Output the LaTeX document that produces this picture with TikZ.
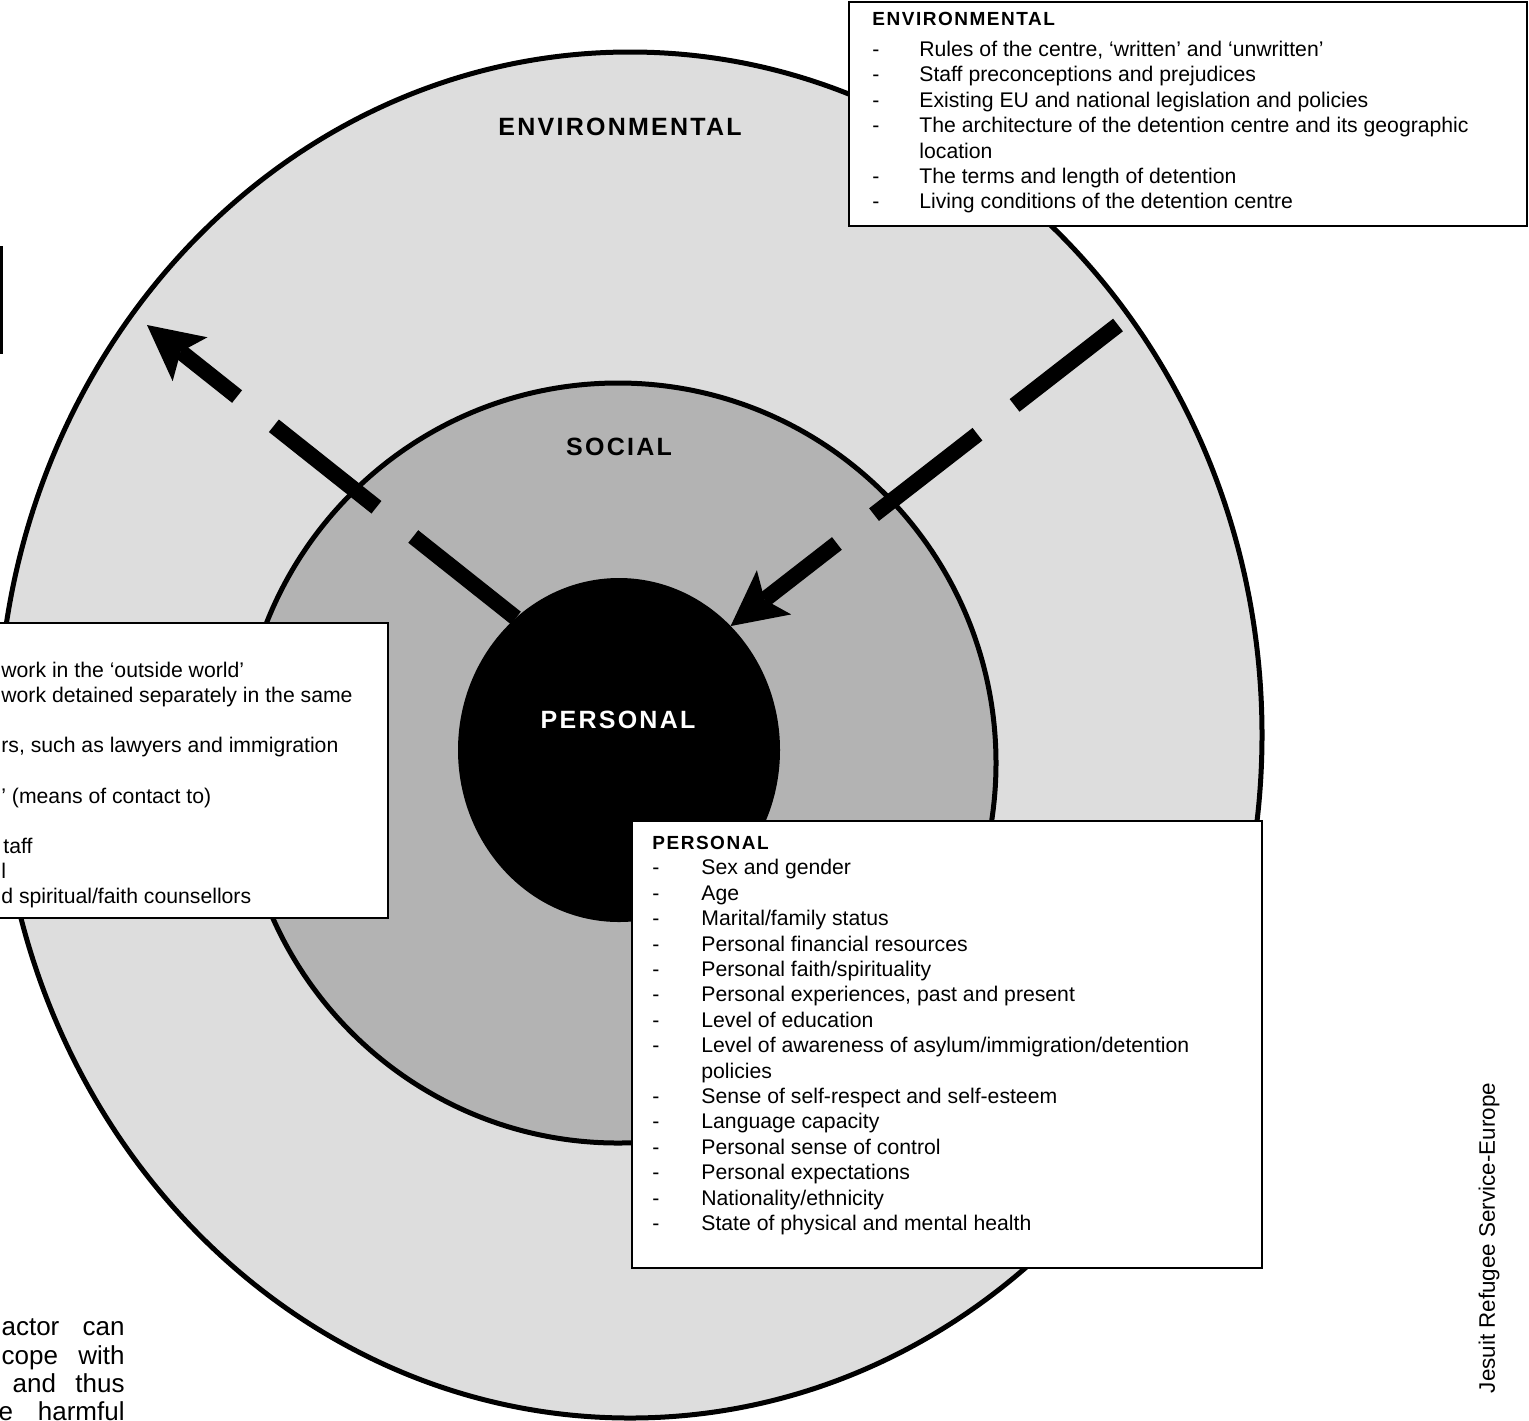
\documentclass[tikz,border=0pt]{standalone}
\usepackage{fontspec}
\setmainfont{Liberation Sans}
\newfontfamily\ringfont[LetterSpace=9]{Liberation Sans}
\newfontfamily\headfont[LetterSpace=8]{Liberation Sans}
\usetikzlibrary{arrows.meta,shapes.geometric}
\definecolor{envgray}{RGB}{221,221,221}
\definecolor{socgray}{RGB}{179,179,179}
\tikzset{
 ring/.style={ellipse, draw=black, line width=2.5pt, inner sep=0pt, outer sep=0pt},
 ringlabel/.style={font=\ringfont\bfseries\fontsize{12.5}{15}\selectfont, inner sep=0pt},
 listbox/.style={draw=black, line width=1pt, fill=white, inner sep=0pt, outer sep=0pt},
 listtext/.style={anchor=base west, inner sep=0pt, font=\fontsize{10.6}{12.7}\selectfont},
 flow/.style={line width=8pt, dash pattern=on 65.5pt off 23.5pt,
   -{Stealth[length=27.5pt,width=28pt,inset=6pt,line width=0pt]}},
 credit/.style={inner sep=0pt, font=\fontsize{11.2}{13}\selectfont},
 para/.style={anchor=base east, inner sep=0pt, font=\fontsize{13}{15}\selectfont},
}
\begin{document}
\begin{tikzpicture}[x=0.5pt,y=-0.5pt]
\useasboundingbox (0,0) rectangle (1529,1420);
\begin{scope}
\clip (0,0) rectangle (1529,1420);
% rings
\node[ring, fill=envgray, minimum width=632pt, minimum height=683pt] (env) at (630,735) {};
\node[ring, fill=socgray, minimum width=378pt, minimum height=380pt] (soc) at (618,763) {};
\node[ellipse, fill=black, inner sep=0pt, outer sep=0pt, minimum width=161pt, minimum height=172pt] (pers) at (619,750) {};
\node[ringlabel] (envlabel) at (620,127) {ENVIRONMENTAL};
\node[ringlabel] (soclabel) at (619,447) {SOCIAL};
\node[ringlabel, text=white] (perslabel) at (618,720) {PERSONAL};
% arrows
\coordinate (outtip) at (147,325);
\coordinate (instart) at (1118,325);
\draw[flow] (pers.128) -- (outtip);
\draw[flow] (instart) -- (pers.48);
% top-left fragment box
\node[draw=black, line width=1.5pt, inner sep=0pt, minimum width=30.75pt, minimum height=52.5pt] (tlbox) at (-29.25,299.5) {};
% environmental box
\node[listbox, minimum width=339pt, minimum height=112pt] (envbox) at (1188,114) {};
\node[listtext] (envtxt) at (872,25) {\begin{tabular}[t]{@{}p{23.5pt}@{}l@{}}
\multicolumn{2}{@{}l@{}}{\headfont\bfseries\fontsize{9.5}{12.7}\selectfont ENVIRONMENTAL}\\[3pt]
- & Rules of the centre, ‘written’ and ‘unwritten’\\
- & Staff preconceptions and prejudices\\
- & Existing EU and national legislation and policies\\
- & The architecture of the detention centre and its geographic\\
  & location\\
- & The terms and length of detention\\
- & Living conditions of the detention centre
\end{tabular}};
% social box (cut at left)
\node[listbox, minimum width=204pt, minimum height=147.5pt] (socbox) at (184,770.5) {};
\node[listtext, font=\fontsize{10.6}{12.6}\selectfont] (soctxt) at (1,677) {\begin{tabular}[t]{@{}l@{}}
work in the ‘outside world’\\
work detained separately in the same\\
\\
rs, such as lawyers and immigration\\
\\
’ (means of contact to)\\
\\
\hspace*{1pt}taff\\
l\\
d spiritual/faith counsellors
\end{tabular}};
% personal box
\node[listbox, minimum width=315pt, minimum height=223.5pt] (persbox) at (947,1044.5) {};
\node[listtext] (perstxt) at (652,849.5) {\begin{tabular}[t]{@{}p{24.5pt}@{}l@{}}
\multicolumn{2}{@{}l@{}}{\headfont\bfseries\fontsize{9.5}{12.7}\selectfont PERSONAL}\\
- & Sex and gender\\
- & Age\\
- & Marital/family status\\
- & Personal financial resources\\
- & Personal faith/spirituality\\
- & Personal experiences, past and present\\
- & Level of education\\
- & Level of awareness of asylum/immigration/detention\\
  & policies\\
- & Sense of self-respect and self-esteem\\
- & Language capacity\\
- & Personal sense of control\\
- & Personal expectations\\
- & Nationality/ethnicity\\
- & State of physical and mental health
\end{tabular}};
% credit
\node[credit, rotate=90] (jrs) at (1489,1238) {Jesuit Refugee Service-Europe};
% paragraph fragment
\node[para] (p1) at (125,1335) {\makebox[61.5pt][s]{actor can}};
\node[para] (p2) at (125,1364) {\makebox[61.5pt][s]{cope with}};
\node[para] (p3) at (125,1392) {\makebox[56pt][s]{and thus}};
\node[para] (p4) at (125,1420) {\makebox[63pt][s]{e harmful}};
\end{scope}
\end{tikzpicture}
\end{document}
